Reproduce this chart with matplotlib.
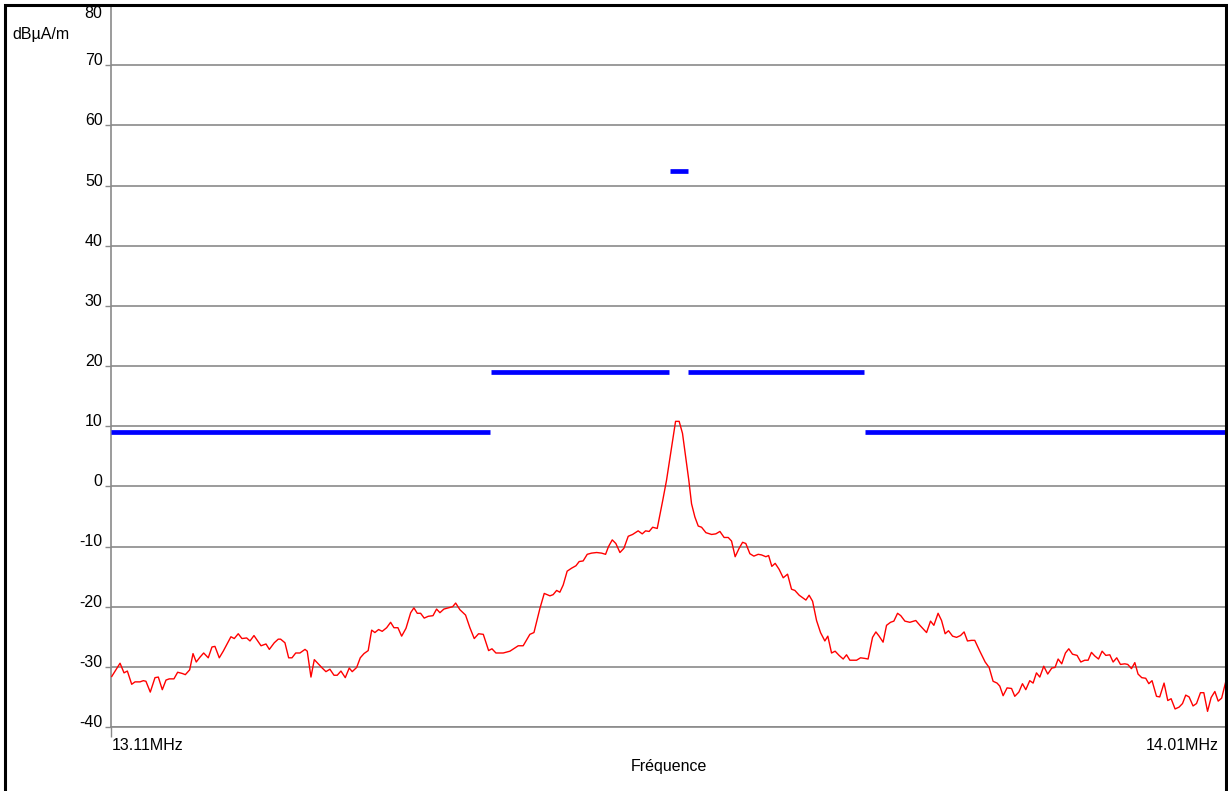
import matplotlib.pyplot as plt
from matplotlib.patches import Rectangle

plt.rcParams['font.family'] = ['Liberation Sans', 'DejaVu Sans']

# measured field strength, frequency in MHz / level in dBuA/m
freq_mhz = [
    13.1106, 13.1173, 13.1205, 13.1232, 13.1267, 13.1294, 13.1334, 13.1361, 13.1382, 13.1417,
    13.1455, 13.1482, 13.1514, 13.1544, 13.1570, 13.1608, 13.1638, 13.1675, 13.1700, 13.1735,
    13.1762, 13.1788, 13.1818, 13.1848, 13.1885, 13.1915, 13.1939, 13.1974, 13.2006, 13.2068,
    13.2095, 13.2127, 13.2157, 13.2195, 13.2222, 13.2254, 13.2311, 13.2351, 13.2378, 13.2418,
    13.2450, 13.2469, 13.2504, 13.2534, 13.2561, 13.2591, 13.2625, 13.2666, 13.2684, 13.2714,
    13.2741, 13.2773, 13.2805, 13.2835, 13.2867, 13.2900, 13.2926, 13.2956, 13.2991, 13.3023,
    13.3047, 13.3083, 13.3112, 13.3142, 13.3176, 13.3204, 13.3230, 13.3260, 13.3289, 13.3325,
    13.3357, 13.3384, 13.3416, 13.3446, 13.3481, 13.3519, 13.3545, 13.3572, 13.3599, 13.3628,
    13.3661, 13.3699, 13.3728, 13.3755, 13.3787, 13.3822, 13.3858, 13.3882, 13.3916, 13.3962,
    13.3997, 13.4032, 13.4067, 13.4105, 13.4148, 13.4175, 13.4207, 13.4266, 13.4320, 13.4387,
    13.4427, 13.4481, 13.4514, 13.4562, 13.4597, 13.4643, 13.4669, 13.4697, 13.4723, 13.4750,
    13.4782, 13.4818, 13.4853, 13.4879, 13.4911, 13.4944, 13.4979, 13.5020, 13.5060, 13.5092,
    13.5116, 13.5146, 13.5175, 13.5208, 13.5240, 13.5275, 13.5310, 13.5355, 13.5388, 13.5415,
    13.5444, 13.5472, 13.5509, 13.5552, 13.5584, 13.5625, 13.5657, 13.5686, 13.5713, 13.5746,
    13.5764, 13.5786, 13.5813, 13.5840, 13.5867, 13.5902, 13.5948, 13.5982, 13.6015, 13.6049,
    13.6082, 13.6109, 13.6138, 13.6170, 13.6198, 13.6224, 13.6257, 13.6289, 13.6324, 13.6351,
    13.6386, 13.6408, 13.6434, 13.6461, 13.6493, 13.6526, 13.6561, 13.6593, 13.6620, 13.6655,
    13.6682, 13.6709, 13.6735, 13.6763, 13.6795, 13.6827, 13.6862, 13.6886, 13.6916, 13.6945,
    13.6977, 13.7010, 13.7037, 13.7064, 13.7118, 13.7150, 13.7185, 13.7211, 13.7247, 13.7274,
    13.7300, 13.7332, 13.7360, 13.7392, 13.7419, 13.7449, 13.7475, 13.7508, 13.7548, 13.7596,
    13.7629, 13.7683, 13.7715, 13.7742, 13.7776, 13.7804, 13.7833, 13.7860, 13.7893, 13.7925,
    13.7957, 13.7986, 13.8013, 13.8046, 13.8072, 13.8113, 13.8156, 13.8188, 13.8220, 13.8252,
    13.8274, 13.8301, 13.8333, 13.8369, 13.8395, 13.8428, 13.8457, 13.8484, 13.8516, 13.8543,
    13.8570, 13.8597, 13.8629, 13.8661, 13.8694, 13.8720, 13.8745, 13.8774, 13.8804, 13.8831,
    13.8861, 13.8898, 13.8928, 13.8960, 13.8987, 13.9014, 13.9041, 13.9071, 13.9100, 13.9130,
    13.9162, 13.9189, 13.9218, 13.9248, 13.9283, 13.9307, 13.9337, 13.9364, 13.9390, 13.9420,
    13.9452, 13.9477, 13.9503, 13.9539, 13.9565, 13.9600, 13.9630, 13.9657, 13.9689, 13.9721,
    13.9749, 13.9775, 13.9802, 13.9834, 13.9862, 13.9894, 13.9921, 13.9951, 13.9980, 14.0010,
    14.0037, 14.0065, 14.0100,
]
level_db = [
    -31.6, -29.4, -31.0, -30.7, -32.9, -32.5, -32.5, -32.3, -32.4, -34.2,
    -31.8, -31.7, -33.8, -32.2, -32.0, -32.0, -30.9, -31.1, -31.3, -30.5,
    -27.8, -29.2, -28.4, -27.7, -28.5, -26.7, -26.6, -28.5, -27.4, -25.0,
    -25.3, -24.5, -25.3, -25.2, -25.7, -24.8, -26.5, -26.2, -27.1, -26.0,
    -25.4, -25.4, -26.0, -28.5, -28.5, -27.7, -27.7, -27.1, -27.4, -31.7,
    -28.8, -29.5, -30.2, -30.8, -30.4, -31.4, -31.4, -30.7, -31.8, -30.2,
    -30.8, -30.1, -28.5, -27.8, -27.3, -23.9, -24.3, -23.8, -24.1, -23.5,
    -22.6, -23.5, -23.5, -24.9, -23.6, -21.0, -20.2, -21.1, -21.1, -21.9,
    -21.6, -21.5, -20.4, -21.0, -20.4, -20.2, -20.0, -19.4, -20.5, -21.4,
    -23.5, -25.3, -24.5, -24.6, -27.3, -27.0, -27.7, -27.7, -27.4, -26.5,
    -26.5, -24.6, -24.3, -20.3, -17.8, -18.2, -18.0, -17.3, -17.6, -16.4,
    -14.1, -13.6, -13.2, -12.5, -12.4, -11.3, -11.1, -11.0, -11.1, -11.3,
    -10.0, -8.9, -9.5, -11.0, -10.3, -8.3, -8.0, -7.4, -7.9, -7.4,
    -7.5, -6.8, -7.0, -2.5, 1.0, 6.5, 10.8, 10.8, 8.8, 3.8,
    1.0, -2.9, -5.1, -6.6, -6.8, -7.7, -8.0, -7.9, -7.5, -8.5,
    -8.5, -9.1, -11.7, -10.3, -9.3, -9.5, -11.2, -11.6, -11.3, -11.4,
    -11.7, -11.5, -13.3, -12.8, -13.8, -15.2, -14.6, -17.1, -17.3, -18.1,
    -18.5, -18.9, -18.1, -19.1, -22.3, -24.3, -25.7, -24.9, -27.7, -27.4,
    -28.1, -28.7, -28.0, -28.9, -28.9, -28.5, -28.6, -28.7, -25.1, -24.2,
    -24.9, -25.9, -23.1, -22.6, -22.4, -21.1, -21.5, -22.4, -22.6, -22.3,
    -23.1, -24.3, -22.4, -23.1, -21.1, -22.3, -24.5, -24.0, -24.9, -25.1,
    -24.8, -24.2, -25.7, -25.6, -25.6, -27.4, -29.2, -30.1, -32.4, -32.7,
    -33.2, -34.8, -33.5, -33.6, -34.9, -34.2, -32.8, -33.8, -32.3, -32.7,
    -31.0, -31.7, -29.9, -31.2, -30.2, -30.1, -28.7, -29.5, -27.7, -27.0,
    -27.9, -28.1, -29.2, -28.9, -28.9, -27.6, -28.2, -28.7, -27.4, -28.1,
    -28.0, -29.2, -28.5, -29.6, -29.5, -29.6, -30.3, -29.3, -31.2, -31.8,
    -31.9, -32.8, -32.3, -34.9, -35.0, -32.7, -35.6, -35.3, -37.0, -36.7,
    -36.1, -34.7, -35.0, -36.5, -36.1, -34.3, -34.3, -37.4, -35.1, -34.1,
    -35.7, -35.2, -32.3,
]

# limit mask segments: (start MHz, stop MHz, level dBuA/m)
limit_start = [13.11, 13.4167, 13.5609, 13.5754, 13.7185]
limit_stop = [13.4159, 13.5607, 13.5754, 13.7177, 14.01]
limit_level = [9, 19, 52.4, 19, 9]

y_ticks = list(range(-40, 81, 10))
x_start, x_stop = 13.11, 14.01
x_tick_labels = ['13.11MHz', '14.01MHz']

FS = 11.5
W, H = 1228, 791
fig = plt.figure(figsize=(W / 100, H / 100), dpi=100)
ax = fig.add_axes([111 / W, 1 - 727 / H, (1226 - 111) / W, (727 - 5) / H])

grid_col = '#8a8a8a'
for lev in y_ticks:
    ax.axhline(lev, color=grid_col, lw=1.2, zorder=1)

for f0, f1, lev in zip(limit_start, limit_stop, limit_level):
    ax.plot([f0, f1], [lev, lev], color='#0000ff', lw=3.4,
             solid_capstyle='butt', zorder=3)

ax.plot(freq_mhz, level_db, color='#ff0000', lw=1.0, zorder=4)

ax.set_xlim(x_start, x_stop)
ax.set_ylim(-40, 80)

# y labels sit on their grid line; the top one is pushed inside the frame
ax.set_yticks(y_ticks)
ax.set_yticklabels([str(v) if v < 80 else '' for v in y_ticks])
ax.tick_params(axis='y', length=4, width=1, color=grid_col, pad=2,
               labelsize=FS)
for lbl in ax.get_yticklabels():
    lbl.set_verticalalignment('baseline')
ax.annotate(str(y_ticks[-1]), xy=(0, y_ticks[-1]),
            xycoords=('axes fraction', 'data'), xytext=(-9, -9),
            textcoords='offset pixels', ha='right', va='center', fontsize=FS)

# only the span limits are labelled on the frequency axis
ax.set_xticks([x_start])
ax.tick_params(axis='x', length=7, width=1, color=grid_col,
               labelbottom=False)
ax.annotate(x_tick_labels[0], xy=(0, 0), xycoords='axes fraction',
            xytext=(1, -18), textcoords='offset pixels',
            ha='left', va='center', fontsize=FS)
ax.annotate(x_tick_labels[1], xy=(1, 0), xycoords='axes fraction',
            xytext=(-7, -18), textcoords='offset pixels',
            ha='right', va='center', fontsize=FS)
ax.annotate('Fréquence', xy=(0.5, 0), xycoords='axes fraction',
            xytext=(0, -40), textcoords='offset pixels',
            ha='center', va='center', fontsize=FS)

for side in ['top', 'right']:
    ax.spines[side].set_visible(False)
for side in ['left', 'bottom']:
    ax.spines[side].set_color(grid_col)
    ax.spines[side].set_linewidth(1.2)

fig.text(12 / W, 1 - 35 / H, 'dBµA/m', fontsize=FS, ha='left', va='center')

# outer border of the sheet
fig.patches.append(Rectangle((5 / W, -0.02), (1226 - 5) / W, 1.02 - 5 / H,
                             transform=fig.transFigure, fill=False,
                             edgecolor='black', lw=2.2, zorder=10))

fig.savefig('out.png', dpi=100)
